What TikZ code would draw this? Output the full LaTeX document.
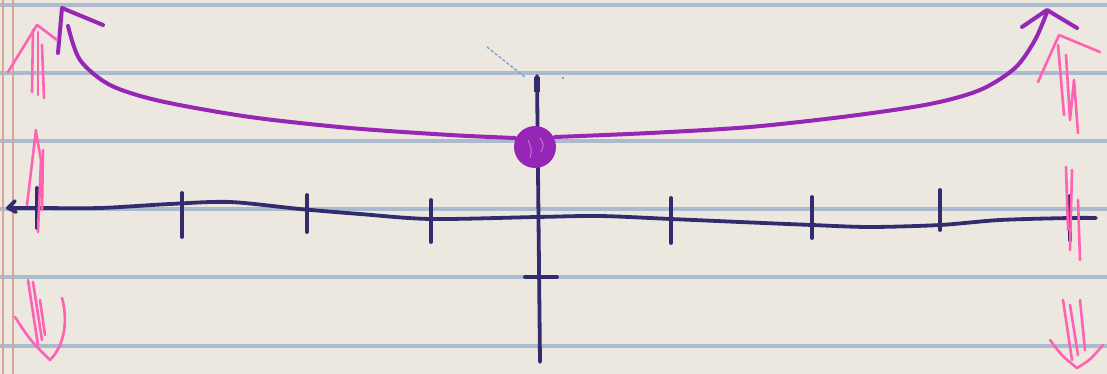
\documentclass[tikz,border=0pt]{standalone}
\definecolor{paper}{RGB}{236,231,223}
\definecolor{rulecol}{RGB}{172,186,208}
\definecolor{margincol}{RGB}{214,165,155}
\definecolor{ink}{RGB}{50,44,110}
\definecolor{curvecol}{RGB}{150,38,182}
\definecolor{pinkink}{RGB}{255,98,178}
\definecolor{scratch}{RGB}{120,165,205}
\tikzset{
  rulestyle/.style={rulecol, line width=3.4pt},
  marginstyle/.style={margincol, line width=2pt},
  axisstyle/.style={ink, line width=3.8pt, line cap=round, line join=round},
  tickstyle/.style={ink, line width=3.8pt, line cap=round},
  curvestyle/.style={curvecol, line width=4pt, line cap=round, line join=round},
  pinkstyle/.style={pinkink, line width=2.6pt, line cap=round, line join=round}
}
\begin{document}
\begin{tikzpicture}[x=1pt,y=-1pt]
\fill[paper] (0,0) rectangle (1107,374);
\useasboundingbox (0,0) rectangle (1107,374);
% ruled lines
\foreach \y in {5,73,141,209,277,346} \draw[rulestyle] (0,\y) -- (1107,\y);
% margin lines
\draw[marginstyle] (3,0) -- (3,374);
\draw[marginstyle] (13,0) -- (13,374);
% coordinates
\coordinate (xl) at (8,208);
\coordinate (xr) at (1096,218);
\coordinate (yt) at (537,76);
\coordinate (yb) at (540,362);
\coordinate (dot) at (535,147);
% x axis
\draw[axisstyle] (xl) plot[smooth] coordinates {(8,208) (37,208) (100,208) (170,204) (230,202) (300,209) (360,214) (431,219) (537,217) (600,216) (671,219) (740,222) (812,225) (870,227) (940,225) (1000,220) (1070,218) (1096,218)};
\draw[axisstyle] (15,201) -- (xl) -- (16,212);
% ticks
\foreach \x/\a/\b in {37/188/228, 182/193/237, 307/195/232, 431/200/242, 671/198/243, 812/197/238, 940/190/230, 1070/196/240}
  \draw[tickstyle] (\x,\a) -- (\x,\b);
% y axis
\draw[axisstyle] (yt) -- (yb);
\draw[ink, line width=6pt] (537,77) -- (537,92);
\draw[tickstyle] (525,277) -- (557,277);
% blue scratch
\draw[scratch, line width=1.4pt, dash pattern=on 3pt off 2pt] (487,47) -- (526,78);
\fill[scratch] (563,78) circle (1.4);
% purple curve
\draw[curvestyle] plot[smooth] coordinates {(68,26) (80,60) (110,85) (160,101) (250,117) (350,128) (450,135) (515,138)};
\draw[curvestyle] plot[smooth] coordinates {(555,137) (650,133) (750,127) (850,116) (930,104) (980,90) (1015,68) (1035,40) (1047,12)};
\draw[curvestyle] (58,53) -- (62,8) -- (103,25);
\draw[curvestyle] (1022,27) -- (1047,10) -- (1077,28);
% point
\fill[curvecol] (dot) circle (21);
\draw[curvecol!60!white, line width=0.9pt] (528,140) .. controls (532,150) .. (530,158);
\draw[curvecol!60!white, line width=0.9pt] (540,138) .. controls (544,145) .. (541,152);
% pink arrows left
\draw[pinkstyle] (8,72) -- (37,25) -- (57,40);
\draw[pinkstyle] (33,30) -- (32,92);
\draw[pinkstyle] (38,32) -- (38,95);
\draw[pinkstyle] (42,45) -- (44,98);
\draw[pinkstyle] (36,130) -- (27,205);
\draw[pinkstyle] (36,132) -- (41,160) -- (38,232);
\draw[pinkstyle] (43,150) -- (42,210);
\draw[pinkstyle] (28,280) -- (38,345);
\draw[pinkstyle] (33,282) -- (42,340);
\draw[pinkstyle] (40,300) -- (45,335);
\draw[pinkstyle] (15,317) .. controls (30,340) .. (50,360) .. controls (65,345) and (68,320) .. (62,298);
% pink arrows right
\draw[pinkstyle] (1038,82) -- (1059,35) -- (1100,52);
\draw[pinkstyle] (1058,45) -- (1064,115);
\draw[pinkstyle] (1066,55) -- (1070,120) -- (1074,80) -- (1078,133);
\draw[pinkstyle] (1066,167) -- (1068,230);
\draw[pinkstyle] (1072,170) -- (1070,250);
\draw[pinkstyle] (1078,200) -- (1080,260);
\draw[pinkstyle] (1063,300) -- (1072,360);
\draw[pinkstyle] (1070,305) -- (1078,355);
\draw[pinkstyle] (1080,300) -- (1085,350);
\draw[pinkstyle] (1050,340) .. controls (1062,356) .. (1077,368) .. controls (1090,360) .. (1103,345);
\end{tikzpicture}
\end{document}
